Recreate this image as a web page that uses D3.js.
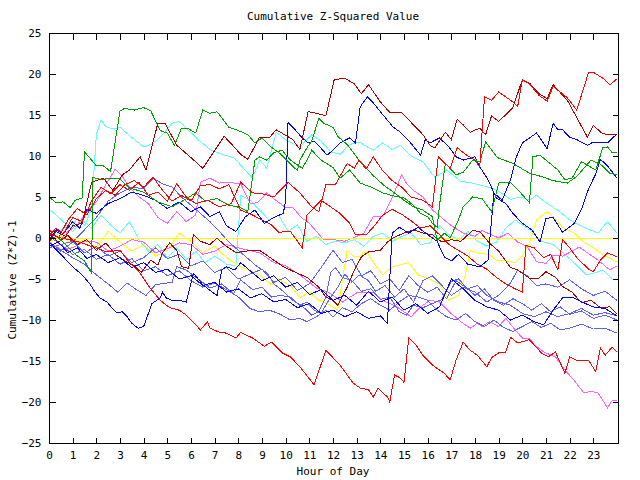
<!DOCTYPE html>
<html><head><meta charset="utf-8">
<script src="https://cdn.jsdelivr.net/npm/d3@7"></script>
<style>
html,body{margin:0;padding:0;background:#fff;}
text{font-family:"DejaVu Sans Mono",monospace;font-size:11px;fill:#000;}
</style></head><body>
<svg id="chart" width="640" height="480"></svg>
<script>
// ---- data: [hour, cumulative (Z*Z)-1] ----
const hourTicks = d3.range(0, 24);
const valueTicks = d3.range(-25, 26, 5);
const titleText = "Cumulative Z-Squared Value";
const xTitle = "Hour of Day";
const yTitle = "Cumulative (Z*Z)-1";

const yellowZero = [[0,0],[24,0]];
const redBottom = [[0,0.5],[0.5,0],[1,-0.3],[1.3,-0.5],[1.86,-1.1],[2.45,-1.7],[3,-1.5],[3.4,-3],[3.85,-4.3],[4.27,-6.1],[4.7,-7.6],[5.1,-8.5],[5.5,-8.8],[5.8,-9.4],[6.4,-11.2],[6.7,-10.2],[6.8,-11],[7.2,-11.5],[7.5,-11.6],[7.9,-12.2],[8.1,-11.5],[8.6,-12.2],[9.1,-13.2],[9.4,-12.7],[9.85,-14],[10.2,-14.5],[10.6,-15.7],[11.2,-17.9],[11.7,-13.7],[12,-14.6],[12.3,-15.5],[12.85,-17.7],[13.15,-18.3],[13.5,-18.5],[13.7,-19.4],[13.9,-18.3],[14.3,-19.4],[14.4,-20],[14.6,-16.7],[14.8,-17],[15,-17.6],[15.2,-12.2],[15.5,-13],[15.8,-14.3],[16.2,-15.5],[16.7,-16.5],[16.95,-17.3],[17.2,-14.9],[17.5,-12.7],[17.8,-13.7],[18.1,-14.3],[18.5,-15.7],[18.7,-14.6],[19,-14],[19.3,-13.9],[19.5,-12.1],[19.8,-12.8],[20.3,-12.4],[20.8,-14],[21.1,-14.5],[21.4,-13.9],[21.8,-16.5],[22,-14.5],[22.3,-14.9],[22.8,-14.9],[23.1,-16.3],[23.3,-13.4],[23.5,-14.3],[23.8,-13.3],[24,-13.9]];
const magentaBottom = [[0,-0.5],[0.5,-1.4],[1,-1.2],[1.5,-0.4],[2,-0.5],[2.5,-1.6],[3,-1],[3.5,-0.2],[4,-0.5],[4.5,-1.8],[5,-1.3],[5.5,-0.6],[6,-0.8],[6.5,-2],[7,-1.6],[7.5,-0.8],[8,-1.2],[8.9,-1.8],[9.5,-3],[10,-3.4],[10.6,-4.5],[11.3,-6.1],[11.8,-6.6],[12.4,-7.8],[13,-6.7],[13.7,-6.6],[14.1,-7.6],[14.7,-8.4],[15.3,-9.6],[15.7,-8.4],[16.1,-7.6],[16.5,-7.8],[16.95,-9.1],[17.4,-10.2],[17.8,-11],[18.1,-10.4],[18.3,-10.8],[18.6,-10.2],[19,-10.8],[19.3,-9.8],[19.7,-11.2],[20,-12.2],[20.3,-12.2],[20.5,-13],[20.9,-13.9],[21.4,-14.5],[21.8,-16.1],[22.2,-17.4],[22.6,-18.9],[22.9,-18.7],[23.2,-18.9],[23.6,-20.7],[23.8,-19.8],[24,-19.8]];
const redTop = [[0,0.3],[0.3,1.2],[0.6,0.5],[1,2.5],[1.4,2],[1.8,4.5],[2.2,6.2],[2.6,5.4],[3,6.5],[3.4,5.8],[3.8,6.8],[4.2,5.2],[4.6,5.6],[5,4.5],[5.4,6.6],[5.8,5],[6.2,4.2],[6.7,4.6],[7.2,3.8],[7.7,4.2],[8.1,6.8],[8.6,5.5],[9,5.4],[9.5,5],[10.1,6.8],[10.6,5.5],[11.1,3.8],[11.4,3.2],[11.7,6.5],[12.1,6.5],[12.6,9.1],[12.9,8.5],[13.1,9.5],[13.4,8.4],[13.7,9.9],[14.1,8.2],[14.5,7],[14.9,6.2],[15.3,5],[15.8,4.6],[16.2,3.8],[16.45,9.9],[16.95,8.5],[17.25,11],[17.6,10.2],[18,9.5],[18.2,8.6],[18.4,17.2],[18.7,16.8],[19,17.8],[19.6,16.6],[19.8,16],[20,19.3],[20.3,18.8],[20.7,17.4],[21.05,16.7],[21.3,18.5],[21.9,17.1],[22.3,15.6],[22.8,20.2],[23,20.2],[23.4,19.5],[23.7,18.7],[24,19.4]];
const darkRedTop = [[0,-0.5],[0.3,0.8],[0.7,0.2],[1,1.5],[1.4,1.8],[1.8,6.8],[2.3,7.3],[2.7,5.8],[3.1,7.7],[3.4,8.3],[3.85,9.9],[4.1,8.3],[4.6,14],[4.9,14],[5.4,11.3],[6,9.8],[6.5,8.5],[7.4,12.4],[7.7,11.5],[8.1,10.2],[8.4,9.6],[8.9,12.3],[9.3,12.2],[9.6,13.2],[10.3,12],[10.6,10.8],[10.95,15.4],[11.3,15.2],[11.7,14.9],[12.05,19.3],[12.5,19.5],[12.9,18.8],[13.2,17.6],[13.5,18.7],[14,16.6],[14.4,15.3],[14.9,15.3],[15.8,12.6],[16.1,11.3],[16.3,11],[16.75,12.9],[17,12],[17.25,14.5],[17.5,13.8],[17.8,12.9],[18.2,13.4],[18.45,12.6],[18.7,14.9],[19,14.2],[19.6,15.9],[20,19.3],[20.3,18.9],[20.7,17.6],[21.05,17],[21.3,18.7],[21.9,16.8],[22.75,12.3],[23,13.7],[23.4,12.7],[24,12.6]];
const blueTop = [[0,-0.3],[0.3,1],[0.6,0.5],[1,2],[1.3,1.2],[1.6,3.5],[2,3],[2.5,4.2],[3,4.8],[3.5,5.6],[4,5.2],[4.5,4.6],[5,3.6],[5.5,4.4],[6,3.2],[6.4,3.8],[6.8,2.6],[7.2,3.2],[7.5,1.5],[7.9,0.8],[8.3,2.6],[8.7,3.4],[9.1,1.8],[9.5,2.5],[9.9,3],[10,4.6],[10.1,14.1],[10.4,13.2],[10.7,12.2],[10.95,11.6],[11.2,11.8],[11.45,11.1],[11.75,10.1],[12,10.7],[12.3,11.6],[12.7,12.2],[12.95,11.6],[13.15,16],[13.45,17.2],[13.7,16.5],[14,15.4],[14.55,13.5],[14.85,12.9],[15.25,11.7],[15.7,10.1],[15.9,12],[16.1,11.6],[16.5,12.2],[16.9,11.1],[17.2,9.9],[17.5,9.5],[18,9.9],[18.2,8.7],[18.55,7.1],[18.9,4.9],[19.3,4.2],[19.6,3],[20,1.8],[20.4,1],[20.75,-0.5],[21,2.4],[21.3,2.5],[21.7,0.7],[22.2,1.8],[22.5,3.5],[22.8,6],[23.1,7.8],[23.3,9.6],[23.6,8.8],[24,7.3]];
const blueRise = [[0,-1],[0.4,-0.5],[0.8,-1.8],[1.2,-1.2],[1.6,-2.5],[2,-2],[2.5,-3],[3,-2.4],[3.5,-3.6],[4,-3],[4.5,-4.2],[5,-3.8],[5.5,-5],[6,-4.6],[6.5,-5.8],[7,-5.4],[7.5,-6.6],[8,-6.2],[8.5,-7.3],[9,-6.8],[9.5,-7.8],[10,-7.5],[10.5,-8.5],[11,-8],[11.5,-9.2],[12,-8.8],[12.5,-9.6],[13,-9],[13.5,-9.8],[14,-9.5],[14.3,-10.4],[14.5,0.6],[14.8,1.3],[15.2,0.6],[15.6,1.3],[16,0.4],[16.4,-0.4],[16.7,-2.3],[17,-2.8],[17.3,-2],[17.7,-3.2],[18.2,-3.5],[18.55,-2.7],[18.8,5.5],[19.15,4.6],[19.5,7.1],[19.75,9.9],[20,11.6],[20.3,12.2],[20.6,12.8],[21.05,10.9],[21.3,14],[21.5,13.2],[21.7,13.2],[22,12.3],[22.3,12],[22.75,11.3],[23,11.7],[23.6,11.6],[24,12.7]];
const blueLow = [[0,-0.5],[0.2,-1.1],[0.6,-2.3],[1,-3.5],[1.4,-4.5],[1.7,-5.5],[1.95,-6.6],[2.15,-7.3],[2.45,-7.8],[2.65,-8.5],[2.85,-9.1],[3.1,-9],[3.3,-9.6],[3.5,-10.4],[3.76,-11],[4,-10.8],[4.1,-10],[4.35,-8],[4.55,-7.6],[4.7,-7.3],[4.8,-6.6],[4.95,-7.3],[5.2,-7.6],[5.5,-7.6],[5.8,-7.8],[6.1,-4.3],[6.5,-5.7],[6.9,-6.6],[7.1,-7],[7.3,-3.9],[7.5,-3.5],[7.85,-3.9],[8.1,-3],[8.5,-4],[9,-5.2],[9.5,-4.6],[10,-6],[10.5,-5.4],[11,-6.9],[11.5,-6.3],[12,-7.6],[12.5,-7],[13,-8.2],[13.5,-6.5],[14,-7.8],[14.5,-7.2],[15,-8.8],[15.5,-8],[16,-9.2],[16.5,-8.4],[17,-5],[17.5,-6.2],[18,-7.6],[18.5,-8.4],[19,-8.8],[19.5,-10],[20,-9.4],[20.5,-10.2],[20.9,-10.6],[21.3,-8.8],[21.7,-7.3],[22.1,-7.2],[22.5,-7.8],[23,-8.4],[23.5,-8.6],[24,-9.5]];
const lightBlue1 = [[0,-0.5],[0.5,-1.5],[1,-2.4],[1.5,-3.2],[2,-4.5],[2.5,-5.6],[2.9,-6.6],[3.3,-5.5],[3.7,-6.3],[4.1,-7],[4.5,-5.7],[5.2,-5.4],[5.4,-3.5],[5.8,-3.9],[6.3,-5],[6.8,-6.1],[7.3,-5.6],[7.8,-6.8],[8.1,-5.1],[8.6,-6.3],[9,-6],[9.4,-7.2],[9.8,-7],[10.2,-7.2],[10.6,-8.2],[10.9,-7.8],[11.2,-8.8],[11.5,-9.2],[11.75,-7.9],[12.2,-6],[12.5,-4.4],[12.8,-5.4],[13.1,-4.5],[13.5,-5.2],[13.8,-6.5],[14.2,-5.8],[14.6,-7.2],[15,-6.2],[15.4,-7.8],[15.8,-5.2],[16.2,-4.6],[16.6,-5.8],[17,-7],[17.5,-6],[18,-6.6],[18.5,-7.8],[19,-7],[19.5,-5.5],[19.8,-3.9],[20.2,-4.6],[20.6,-5.8],[21,-5.6],[21.5,-6],[22,-5.1],[22.5,-6.2],[23,-7],[23.5,-6.5],[24,-7.6]];
const lightBlue2 = [[0,-0.8],[0.5,-1.6],[1,-0.5],[1.5,1],[2,2.5],[2.5,4.5],[3,5.5],[3.5,6.2],[4,6],[4.4,7.3],[4.8,6.6],[5.2,6.2],[5.6,5],[6,4],[6.4,3],[6.8,2],[7.2,0.8],[7.6,-0.5],[8,-1.5],[8.4,-2.5],[8.8,-3.5],[9.2,-4.2],[9.5,-5.6],[9.9,-6.5],[10.3,-7.6],[10.7,-8.3],[11.1,-9.4],[11.4,-9],[11.7,-7.2],[11.9,-4.2],[12.1,-3.6],[12.4,-4.8],[12.8,-5.2],[13.2,-6.5],[13.6,-6.2],[14,-7.5],[14.4,-7.2],[14.8,-9],[15.1,-9.4],[15.4,-8.2],[15.8,-8.5],[16.2,-8],[16.6,-7.5],[17,-5.3],[17.3,-5],[17.7,-6.2],[18.1,-5.8],[18.5,-7],[19,-7.8],[19.5,-8.2],[20,-9.2],[20.5,-9.6],[21,-9],[21.5,-9.6],[22,-9.2],[22.5,-8.6],[23,-9.4],[23.5,-9.1],[24,-9.5]];
const lightBlue3 = [[0,-1.2],[0.5,-0.8],[1,-2],[1.5,-1.4],[2,-2.6],[2.5,-2],[3,-3.2],[3.5,-2.5],[4,-4],[4.5,-3.5],[5,-4.6],[5.5,-4],[6,-5.2],[6.5,-6],[7,-5.5],[7.5,-6.3],[8,-7.2],[8.5,-8.6],[8.9,-9],[9.3,-8.8],[9.7,-9.2],[10.2,-10],[10.6,-9.8],[10.9,-10.2],[11.3,-9.6],[11.7,-8.8],[12,-9.6],[12.4,-8.5],[12.8,-9],[13.2,-8],[13.6,-7.4],[14,-8.2],[14.4,-8.8],[14.8,-7.8],[15.2,-7],[15.6,-7.2],[16,-7.6],[16.4,-8.8],[16.8,-9.6],[17.2,-10],[17.6,-9.2],[18,-10.2],[18.4,-10.8],[18.8,-10],[19.2,-10.9],[19.6,-11.4],[20,-10.8],[20.4,-10.2],[20.8,-10.9],[21.2,-10.4],[21.6,-11.2],[22,-11],[22.5,-10.5],[23,-11.1],[23.5,-11],[24,-11.6]];
const lightBlue4 = [[0,0.2],[0.5,-0.8],[1,-0.4],[1.5,-1.8],[2,-1],[2.5,-2.2],[3,-1.6],[3.5,-3],[4,-2.4],[4.5,-1.2],[5,-2.5],[5.5,-2],[6,-3.4],[6.5,-2.8],[7,-4.2],[7.5,-3.6],[8,-5],[8.5,-4.4],[9,-3.8],[9.5,-5.4],[10,-4.8],[10.5,-6.4],[11,-5.6],[11.5,-3.6],[12,-1.5],[12.4,-3],[12.8,-2.6],[13.2,-4.6],[13.6,-4],[14,-5.6],[14.4,-5],[14.8,-6.4],[15.2,-4.6],[15.6,-5.8],[16,-6.6],[16.4,-6],[16.8,-7.4],[17.2,-5.2],[17.6,-6],[18,-7],[18.4,-6.2],[18.8,-7.6],[19.2,-8.2],[19.6,-7.4],[20,-8],[20.4,-8.8],[20.8,-8],[21.2,-9],[21.6,-8.4],[22,-9.3],[22.5,-8.9],[23,-9.8],[23.5,-9.4],[24,-10]];
const darkRed2 = [[0,0.5],[0.4,-0.5],[0.8,0.3],[1.2,-0.8],[1.6,-0.2],[2,-1.5],[2.4,-0.6],[2.8,-2],[3.2,-2.8],[3.6,-3.4],[3.9,-4.2],[4.3,-2.7],[4.6,-3.3],[4.8,-1.8],[5.1,-0.6],[5.4,-1.5],[5.6,-3.5],[5.9,-3.7],[6.1,0.4],[6.4,-0.4],[6.8,-0.8],[7.1,0],[7.4,-0.8],[7.9,-1.8],[8.1,-1.7],[8.6,-1.5],[8.9,-1.5],[9.3,-2.3],[9.9,-3.5],[10.5,-4.3],[10.9,-4.8],[11.4,-6],[11.7,-7.2],[12,-7.6],[12.2,-8.2],[12.6,-6],[12.9,-3.9],[13.2,-2.3],[13.5,-1.7],[14,-1.5],[14.3,-0.5],[14.6,0.1],[15,0.6],[15.4,1],[15.8,0.6],[16.2,0.4],[16.6,-0.5],[17,-0.2],[17.4,-0.4],[17.9,0.9],[18.2,0.8],[18.6,-0.6],[19,-1.6],[19.5,-3.6],[19.8,-3.9],[20.3,-4.9],[20.7,-4.9],[21,-4.1],[21.4,-4.8],[21.7,-5.9],[22.1,-6.6],[22.5,-7.9],[22.9,-7.6],[23.3,-8.5],[23.7,-8.4],[24,-9.3]];
const red3 = [[0,1],[0.4,0],[0.8,2.2],[1.2,3.6],[1.6,2.8],[2,4.8],[2.4,5.8],[2.8,5.2],[3.2,6.5],[3.6,7],[4,6.2],[4.4,7.4],[4.8,5.8],[5.2,4.5],[5.6,5.2],[6,4.5],[6.4,6.4],[6.8,6.5],[7.2,6],[7.6,6.5],[8.1,3.4],[8.6,2.8],[9.4,1.6],[9.7,0.7],[10.2,0.8],[10.7,-1.2],[10.9,2.8],[11.5,4.6],[11.9,3.8],[12.3,3],[12.7,1.8],[12.95,0.4],[13.4,0.4],[13.7,1.3],[14.1,2.8],[14.5,3.5],[14.9,2.9],[15.3,2.1],[15.7,1.2],[16.1,1.5],[16.5,0.4],[16.9,-0.8],[17.3,-1.5],[17.7,-2.2],[18.1,-3.2],[18.5,-3.8],[18.9,-4.8],[19.3,-5.6],[19.7,-6.2],[20,-6.6],[20.15,-0.9],[20.5,-1.2],[20.9,-2.4],[21.2,-2],[21.5,-3.9],[21.7,-0.2],[22,-1.2],[22.3,-2.4],[22.8,-3.8],[23,-4.1],[23.3,-2.7],[23.6,-1.8],[24,-2.3]];
const yellow2 = [[0,-0.5],[0.5,0.3],[1,-0.8],[1.5,-0.2],[2,-1.2],[2.5,0.8],[3,-0.5],[3.5,-1.6],[4,-0.8],[4.5,-2.2],[5,-1.5],[5.5,0.6],[6,-0.4],[6.5,-1.8],[7,-1],[7.5,-2.4],[8.1,-3.5],[8.9,-4.5],[9.4,-5.7],[9.7,-5.1],[10.2,-5.8],[10.6,-7.3],[11,-6.6],[11.4,-7.6],[11.9,-8.2],[12.2,-8.8],[12.6,-1.5],[12.9,-2.3],[13.1,-2.3],[13.4,-1.6],[13.7,-3],[14.1,-4.5],[14.5,-3.5],[14.8,-3.3],[15.2,-3],[15.6,-4.5],[16,-4.9],[16.5,-5.6],[16.9,-7.6],[17.3,-7],[17.6,-4.5],[17.8,-1.5],[18.2,-1.9],[18.6,-2],[18.9,-2.7],[19.3,-2.8],[19.7,-3],[20,-2.2],[20.3,-0.6],[20.6,2.2],[21.05,3.2],[21.3,2.6],[21.7,1.3],[22.2,0.6],[22.6,-0.5],[23,-1.2],[23.5,-2.2],[24,-2.9]];
const magenta2 = [[0,0.2],[0.4,-0.6],[0.8,0.8],[1.2,1.6],[1.6,3.2],[2,4.4],[2.4,6.5],[2.8,8.4],[3.1,7.5],[3.4,6.2],[3.8,5],[4.2,4.2],[4.6,2.5],[5,1.8],[5.4,3.2],[5.8,2],[6.2,2.8],[6.4,6.8],[6.8,7.3],[7.2,6.7],[7.6,6.8],[8.1,6.6],[8.5,4.2],[8.8,4.3],[9.2,5.5],[9.5,4.8],[10,3.7],[10.3,3.7],[10.7,2.4],[11,1.8],[11.6,-0.2],[12,-0.2],[12.5,-0.4],[13,0.2],[13.3,0.6],[13.7,2.6],[14.1,2.6],[14.4,4.3],[14.7,6.3],[14.9,7.7],[15.1,6.7],[15.4,5.8],[15.8,5],[16.2,3.4],[16.5,2.7],[17,1.5],[17.5,0.6],[18,0.2],[18.3,0.9],[18.7,0.4],[19,0],[19.4,0.6],[19.8,-0.5],[20.2,-1],[20.6,-2.9],[21,-3.1],[21.3,-2.1],[21.7,-2.2],[22.1,-1.6],[22.4,-1.1],[22.8,-1.9],[23.2,-2.7],[23.7,-3.9],[24,-3.4]];
const cyan1 = [[0,3.5],[0.3,2.8],[0.6,2],[0.9,1.2],[1.2,2.4],[1.5,1.5],[1.8,3.5],[2,12.6],[2.2,14.4],[2.4,13.6],[2.7,13.3],[3,13.5],[3.4,12.5],[4,11.1],[4.4,11.5],[4.8,12.6],[5.2,14],[5.5,14.2],[5.8,13.4],[6.3,12],[6.8,10.8],[7.3,10.2],[7.8,9.8],[8.1,8.9],[8.4,7.9],[8.6,7.3],[8.9,9.5],[9.2,8.5],[9.6,12.9],[10,12],[10.6,11.1],[11.1,12.6],[11.5,11.8],[11.9,10.5],[12.3,10.2],[12.7,11.4],[13.1,11.7],[13.7,10.7],[14.1,11.6],[14.5,10.8],[14.85,11.3],[15.3,10],[15.8,9.3],[16.3,7.4],[16.8,8.3],[17.4,6.9],[17.9,6.7],[18.3,6.4],[18.9,5.9],[19.5,4.7],[19.9,5],[20.3,4.6],[20.6,5.2],[21.1,4.1],[21.5,3.4],[22,2.2],[22.6,1.3],[23.2,0.6],[23.6,2],[24,0.6]];
const cyan2 = [[0,1],[0.3,0.2],[0.7,1.6],[1,0.8],[1.4,2.2],[1.8,1.2],[2.2,2.8],[2.6,1.6],[3,0.6],[3.4,2],[3.8,-0.2],[4.2,-1.6],[4.6,-0.8],[5,-2.4],[5.4,-1.2],[5.8,-2.6],[6.2,-1.6],[6.6,-3],[7,-2.2],[7.5,-3.2],[7.9,-3.4],[8.1,5.2],[8.5,4.6],[8.9,3.4],[9.3,2.2],[9.7,2.8],[10.1,0.8],[10.5,1.6],[10.9,-0.4],[11.3,0.2],[11.7,-0.8],[12.1,-0.4],[12.5,-0.6],[12.9,-0.2],[13.3,-1],[13.7,0.2],[14.1,0.6],[14.5,-0.4],[14.9,0.2],[15.3,0.6],[15.7,-0.8],[16.1,-0.6],[16.5,1.5],[16.9,0.4],[17.3,-0.3],[17.7,0.8],[18.1,-0.4],[18.5,-1],[18.9,-0.5],[19.3,1.2],[19.7,2.2],[20.1,1.4],[20.4,0.8],[20.8,-0.4],[21.3,-0.8],[21.7,-1.8],[22.1,-2.8],[22.4,-3.6],[22.7,-4.5],[23,-4.3],[23.4,-3.9],[23.8,-5],[24,-5.1]];
const green1 = [[0,5],[0.3,4.3],[0.6,4.4],[0.9,3.7],[1.1,4.6],[1.4,4.9],[1.5,10.5],[1.8,9.5],[2,8.8],[2.3,8.8],[2.6,8.1],[3,15.5],[3.2,15.8],[3.6,15.6],[4,15.9],[4.3,15.5],[4.7,13.1],[5,12.8],[5.3,11.3],[5.6,13.4],[5.9,13.3],[6.2,12.8],[6.5,15.6],[6.8,15.2],[7.1,15.4],[7.6,13.5],[8,13.1],[8.4,12.6],[8.7,11.6],[9,12.2],[9.3,11.3],[9.8,10.2],[10.5,8.2],[10.6,9.5],[10.9,11],[11.1,11.8],[11.4,14.6],[11.6,14],[12,13.5],[12.2,12.4],[12.6,11.4],[13.1,9.5],[13.7,7.6],[14.2,6.3],[14.6,5.5],[15,4.6],[15.4,3.8],[15.8,3.4],[16.2,2.6],[16.4,-0.3],[16.7,0.6],[16.95,0],[17.3,2.2],[17.5,3.8],[17.9,5],[18.3,4.8],[18.7,3.2],[19,6.7],[19.5,6.8],[19.9,5.6],[20.3,4.3],[20.45,9.9],[20.75,10.1],[21.5,8.3],[21.8,7.1],[22.1,7.3],[22.5,9.3],[23.1,8.3],[23.4,11],[23.6,11.1],[23.8,10.4],[24,10.4]];
const green2 = [[0,-0.3],[0.3,0.2],[0.6,-0.5],[0.9,-1.4],[1.2,-2.2],[1.5,-2.8],[1.8,-4.3],[1.85,7.4],[2.2,7.1],[2.6,7.3],[3,7.2],[3.4,6.1],[4,5.6],[4.6,4.4],[5.2,3.8],[5.7,4.6],[6.2,5.5],[6.6,4.5],[7.1,4.8],[7.6,4],[8.1,3.7],[8.4,3.2],[8.7,9.5],[8.9,9.9],[9.2,9.5],[9.5,10.4],[9.85,10.7],[10.2,9.5],[10.4,9.1],[10.7,8.5],[10.9,9.5],[11.1,10.7],[11.5,9.5],[12,8.6],[12.3,7.3],[12.7,8.3],[13.15,6.7],[13.7,6.1],[14.1,5.5],[14.6,5.1],[15,4.9],[15.4,4],[15.7,3],[16,2.6],[16.2,1.8],[16.4,1.3],[16.5,4],[16.75,9.1],[17.2,7.7],[17.5,8],[17.9,9.5],[18.2,9.3],[18.45,11.7],[18.95,9.8],[19.6,9.1],[20.3,7.9],[20.8,7.5],[21.3,7],[21.9,6.7],[22.3,7.5],[22.9,9.5],[23.3,9],[23.7,7.9],[24,7.7]];

const seriesList = [
  {name:"cyan1", data:cyan1, color:"cyan"},
  {name:"cyan2", data:cyan2, color:"cyan"},
  {name:"yellow2", data:yellow2, color:"yellow"},
  {name:"magenta2", data:magenta2, color:"magenta"},
  {name:"magentaBottom", data:magentaBottom, color:"magenta"},
  {name:"lightBlue1", data:lightBlue1, color:"lightblue"},
  {name:"lightBlue2", data:lightBlue2, color:"lightblue"},
  {name:"lightBlue3", data:lightBlue3, color:"lightblue"},
  {name:"lightBlue4", data:lightBlue4, color:"lightblue"},
  {name:"yellowZero", data:yellowZero, color:"yellow"},
  {name:"darkRed2", data:darkRed2, color:"darkred"},
  {name:"red3", data:red3, color:"red"},
  {name:"blueLow", data:blueLow, color:"blue"},
  {name:"blueRise", data:blueRise, color:"blue"},
  {name:"blueTop", data:blueTop, color:"blue"},
  {name:"green2", data:green2, color:"green"},
  {name:"green1", data:green1, color:"green"},
  {name:"darkRedTop", data:darkRedTop, color:"darkred"},
  {name:"redBottom", data:redBottom, color:"red"},
  {name:"redTop", data:redTop, color:"red"}
];
const palette = {red:"#ff0000", darkred:"#a80000", green:"#00a000", blue:"#0000ff",
  lightblue:"#6060ff", magenta:"#ff60ff", cyan:"#60ffff", yellow:"#ffff00"};

// ---- layout ----
const svg = d3.select("#chart");
const L = 49, R = 618, T = 33, B = 443;
const x = d3.scaleLinear().domain([0, 24]).range([L, R - 1]);
const y = d3.scaleLinear().domain([-25, 25]).range([B, T]);

const plot = svg.append("g");
const line = d3.line().x(d => x(d[0])).y(d => y(d[1]));
plot.selectAll("path.series").data(seriesList).join("path")
  .attr("class","series")
  .attr("d", d => line(d.data))
  .attr("fill","none")
  .attr("stroke", d => palette[d.color])
  .attr("stroke-width", 1)
  .attr("shape-rendering","crispEdges");

// frame
svg.append("rect").attr("x", L + 0.5).attr("y", T + 0.5)
  .attr("width", R - L).attr("height", B - T)
  .attr("fill","none").attr("stroke","#000").attr("shape-rendering","crispEdges");

function styleAxis(g, hideText){
  g.select(".domain").remove();
  g.selectAll("line").attr("stroke","#000").attr("shape-rendering","crispEdges");
  if (hideText) g.selectAll("text").remove();
  g.selectAll("text").attr("font-family","DejaVu Sans Mono").attr("font-size","11px").attr("fill","#000");
}
svg.append("g").attr("transform",`translate(0,${B + 0.5})`)
  .call(d3.axisBottom(x).tickValues(hourTicks).tickSize(-6).tickPadding(8).tickFormat(d3.format("d")))
  .call(g => styleAxis(g, false));
svg.append("g").attr("transform",`translate(0,${T + 0.5})`)
  .call(d3.axisTop(x).tickValues(hourTicks).tickSize(-6))
  .call(g => styleAxis(g, true));
svg.append("g").attr("transform",`translate(${L + 0.5},0)`)
  .call(d3.axisLeft(y).tickValues(valueTicks).tickSize(-6).tickPadding(8).tickFormat(d3.format("d")))
  .call(g => styleAxis(g, false));
svg.append("g").attr("transform",`translate(${R + 0.5},0)`)
  .call(d3.axisRight(y).tickValues(valueTicks).tickSize(-6))
  .call(g => styleAxis(g, true));

svg.append("text").attr("x", 333).attr("y", 20).attr("text-anchor","middle").text(titleText);
svg.append("text").attr("x", 333).attr("y", 475).attr("text-anchor","middle").text(xTitle);
svg.append("text").attr("transform","translate(16,280) rotate(-90)").attr("text-anchor","middle").text(yTitle);
</script>
</body></html>
